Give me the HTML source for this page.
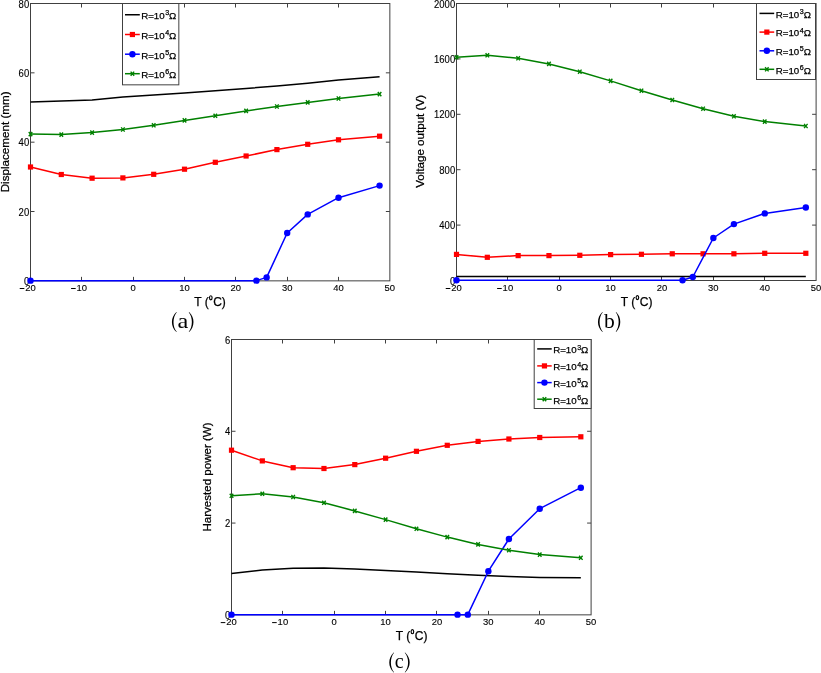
<!DOCTYPE html>
<html><head><meta charset="utf-8"><title>Figure</title>
<style>
html,body{margin:0;padding:0;background:#fff;}
body{width:821px;height:673px;overflow:hidden;}
svg{display:block;will-change:transform;}
text{font-family:"Liberation Sans",sans-serif;fill:#000;stroke:#000;stroke-width:0.25px;}
.t{font-size:9.75px;stroke-width:0.12px;}
.l{font-size:12px;}
.s{font-size:8.2px;}
.g{font-size:9.7px;}
.gs{font-size:7.1px;}
.c{font-family:"Liberation Serif",serif;font-size:20px;stroke:none;}
</style></head>
<body>
<svg width="821" height="673" viewBox="0 0 821 673">
<rect width="821" height="673" fill="#fff"/>
<path d="M81.5 280.85V276.85M81.5 3.5V7.5M133.5 280.85V276.85M133.5 3.5V7.5M184.5 280.85V276.85M184.5 3.5V7.5M235.5 280.85V276.85M235.5 3.5V7.5M287.5 280.85V276.85M287.5 3.5V7.5M338.5 280.85V276.85M338.5 3.5V7.5M30.5 211.51H34.5M389.85 211.51H385.85M30.5 142.18H34.5M389.85 142.18H385.85M30.5 72.84H34.5M389.85 72.84H385.85" stroke="#404040" stroke-width="1" fill="none"/>
<text transform="translate(30.5 291.2) scale(0.97 1)" class="t" text-anchor="middle">20</text>
<path d="M19.74 288.5H24.34" stroke="#000" stroke-width="1"/>
<text transform="translate(81.84 291.2) scale(0.97 1)" class="t" text-anchor="middle">10</text>
<path d="M71.08 288.5H75.68" stroke="#000" stroke-width="1"/>
<text transform="translate(133.17 291.2) scale(0.97 1)" class="t" text-anchor="middle">0</text>
<text transform="translate(184.51 291.2) scale(0.97 1)" class="t" text-anchor="middle">10</text>
<text transform="translate(235.84 291.2) scale(0.97 1)" class="t" text-anchor="middle">20</text>
<text transform="translate(287.18 291.2) scale(0.97 1)" class="t" text-anchor="middle">30</text>
<text transform="translate(338.51 291.2) scale(0.97 1)" class="t" text-anchor="middle">40</text>
<text transform="translate(389.85 291.2) scale(0.97 1)" class="t" text-anchor="middle">50</text>
<text transform="translate(29.2 284.95) scale(0.95 1)" class="t" style="font-size:10px" text-anchor="end">0</text>
<text transform="translate(29.2 215.61) scale(0.95 1)" class="t" style="font-size:10px" text-anchor="end">20</text>
<text transform="translate(29.2 146.28) scale(0.95 1)" class="t" style="font-size:10px" text-anchor="end">40</text>
<text transform="translate(29.2 76.94) scale(0.95 1)" class="t" style="font-size:10px" text-anchor="end">60</text>
<text transform="translate(29.2 7.6) scale(0.95 1)" class="t" style="font-size:10px" text-anchor="end">80</text>
<text x="210" y="305.8" class="l" text-anchor="middle">T (<tspan dx="4.5">C)</tspan></text>
<ellipse cx="210.8" cy="297.8" rx="1.3" ry="2.05" fill="none" stroke="#000" stroke-width="1.15"/>
<text transform="translate(8.9 141.85) rotate(-90)" text-anchor="middle" style="font-size:11.65px" class="l">Displacement (mm)</text>
<text transform="translate(183 327.9) scale(1.22 1)" class="c" text-anchor="middle">a</text>
<path d="M176.4 311.9C170.4 317.35 170.4 326.65 176.4 332.1L176.75 331.85C172.42 326.65 172.42 317.35 176.75 312.15ZM189.1 311.9C194.97 317.35 194.97 326.65 189.1 332.1L188.75 331.85C192.95 326.65 192.95 317.35 188.75 312.15Z" fill="#000"/>
<rect x="30.5" y="3.5" width="359.35" height="277.35" fill="none" stroke="#404040" stroke-width="1"/>
<polyline points="30.5,101.96 61.3,100.92 92.1,99.88 122.9,97.11 153.71,95.03 184.51,92.95 215.31,90.87 246.11,88.44 276.91,86.01 307.71,83.24 338.51,80.12 379.58,76.65" fill="none" stroke="#000" stroke-width="1.5" stroke-linejoin="round" stroke-linecap="butt"/>
<polyline points="30.5,167 61.3,174.5 92.1,178.2 122.9,177.9 153.71,174.3 184.51,169.2 215.31,162.3 246.11,156 276.91,149.6 307.71,144.3 338.51,139.8 379.58,136.2" fill="none" stroke="#f00" stroke-width="1.5" stroke-linejoin="round" stroke-linecap="butt"/>
<rect x="27.9" y="164.4" width="5.2" height="5.2" fill="#f00"/><rect x="58.7" y="171.9" width="5.2" height="5.2" fill="#f00"/><rect x="89.5" y="175.6" width="5.2" height="5.2" fill="#f00"/><rect x="120.3" y="175.3" width="5.2" height="5.2" fill="#f00"/><rect x="151.11" y="171.7" width="5.2" height="5.2" fill="#f00"/><rect x="181.91" y="166.6" width="5.2" height="5.2" fill="#f00"/><rect x="212.71" y="159.7" width="5.2" height="5.2" fill="#f00"/><rect x="243.51" y="153.4" width="5.2" height="5.2" fill="#f00"/><rect x="274.31" y="147" width="5.2" height="5.2" fill="#f00"/><rect x="305.11" y="141.7" width="5.2" height="5.2" fill="#f00"/><rect x="335.91" y="137.2" width="5.2" height="5.2" fill="#f00"/><rect x="376.98" y="133.6" width="5.2" height="5.2" fill="#f00"/>
<polyline points="30.5,280.65 256.38,280.65 266.64,277.4 287.18,233 307.71,214.4 338.51,197.7 379.58,185.6" fill="none" stroke="#00f" stroke-width="1.5" stroke-linejoin="round" stroke-linecap="butt"/>
<circle cx="30.5" cy="280.65" r="3.2" fill="#00f"/><circle cx="256.38" cy="280.65" r="3.2" fill="#00f"/><circle cx="266.64" cy="277.4" r="3.2" fill="#00f"/><circle cx="287.18" cy="233" r="3.2" fill="#00f"/><circle cx="307.71" cy="214.4" r="3.2" fill="#00f"/><circle cx="338.51" cy="197.7" r="3.2" fill="#00f"/><circle cx="379.58" cy="185.6" r="3.2" fill="#00f"/>
<polyline points="30.5,134.1 61.3,134.6 92.1,132.6 122.9,129.5 153.71,125.3 184.51,120.4 215.31,115.8 246.11,110.9 276.91,106.5 307.71,102.4 338.51,98.5 379.58,94.1" fill="none" stroke="#008000" stroke-width="1.5" stroke-linejoin="round" stroke-linecap="butt"/>
<path d="M28.75 132L32.25 136.2M28.75 136.2L32.25 132" stroke="#008000" stroke-width="1.4" fill="none"/><path d="M59.55 132.5L63.05 136.7M59.55 136.7L63.05 132.5" stroke="#008000" stroke-width="1.4" fill="none"/><path d="M90.35 130.5L93.85 134.7M90.35 134.7L93.85 130.5" stroke="#008000" stroke-width="1.4" fill="none"/><path d="M121.15 127.4L124.65 131.6M121.15 131.6L124.65 127.4" stroke="#008000" stroke-width="1.4" fill="none"/><path d="M151.96 123.2L155.46 127.4M151.96 127.4L155.46 123.2" stroke="#008000" stroke-width="1.4" fill="none"/><path d="M182.76 118.3L186.26 122.5M182.76 122.5L186.26 118.3" stroke="#008000" stroke-width="1.4" fill="none"/><path d="M213.56 113.7L217.06 117.9M213.56 117.9L217.06 113.7" stroke="#008000" stroke-width="1.4" fill="none"/><path d="M244.36 108.8L247.86 113M244.36 113L247.86 108.8" stroke="#008000" stroke-width="1.4" fill="none"/><path d="M275.16 104.4L278.66 108.6M275.16 108.6L278.66 104.4" stroke="#008000" stroke-width="1.4" fill="none"/><path d="M305.96 100.3L309.46 104.5M305.96 104.5L309.46 100.3" stroke="#008000" stroke-width="1.4" fill="none"/><path d="M336.76 96.4L340.26 100.6M336.76 100.6L340.26 96.4" stroke="#008000" stroke-width="1.4" fill="none"/><path d="M377.83 92L381.33 96.2M377.83 96.2L381.33 92" stroke="#008000" stroke-width="1.4" fill="none"/>
<rect x="122.5" y="3.5" width="56.33" height="81.33" fill="#fff" stroke="#404040" stroke-width="1"/>
<polyline points="125,14.75 139.8,14.75" fill="none" stroke="#000" stroke-width="1.5" stroke-linejoin="round" stroke-linecap="butt"/>
<text x="141.2" y="19.05" class="g">R=10<tspan class="gs" dx="0.5" dy="-3.7">3</tspan><tspan dy="3.7">&#937;</tspan></text>
<polyline points="125,34.5 139.8,34.5" fill="none" stroke="#f00" stroke-width="1.5" stroke-linejoin="round" stroke-linecap="butt"/>
<rect x="129.8" y="31.9" width="5.2" height="5.2" fill="#f00"/>
<text x="141.2" y="38.8" class="g">R=10<tspan class="gs" dx="0.5" dy="-3.7">4</tspan><tspan dy="3.7">&#937;</tspan></text>
<polyline points="125,54.2 139.8,54.2" fill="none" stroke="#00f" stroke-width="1.5" stroke-linejoin="round" stroke-linecap="butt"/>
<circle cx="132.4" cy="54.2" r="3.2" fill="#00f"/>
<text x="141.2" y="58.5" class="g">R=10<tspan class="gs" dx="0.5" dy="-3.7">5</tspan><tspan dy="3.7">&#937;</tspan></text>
<polyline points="125,73.7 139.8,73.7" fill="none" stroke="#008000" stroke-width="1.5" stroke-linejoin="round" stroke-linecap="butt"/>
<path d="M130.65 71.6L134.15 75.8M130.65 75.8L134.15 71.6" stroke="#008000" stroke-width="1.4" fill="none"/>
<text x="141.2" y="78" class="g">R=10<tspan class="gs" dx="0.5" dy="-3.7">6</tspan><tspan dy="3.7">&#937;</tspan></text>
<path d="M507.5 280.5V276.5M507.5 3.5V7.5M559.5 280.5V276.5M559.5 3.5V7.5M610.5 280.5V276.5M610.5 3.5V7.5M661.5 280.5V276.5M661.5 3.5V7.5M713.5 280.5V276.5M713.5 3.5V7.5M764.5 280.5V276.5M764.5 3.5V7.5M456.5 225.1H460.5M816.1 225.1H812.1M456.5 169.7H460.5M816.1 169.7H812.1M456.5 114.3H460.5M816.1 114.3H812.1M456.5 58.9H460.5M816.1 58.9H812.1" stroke="#404040" stroke-width="1" fill="none"/>
<text transform="translate(456.5 291.2) scale(0.97 1)" class="t" text-anchor="middle">20</text>
<path d="M445.74 288.5H450.34" stroke="#000" stroke-width="1"/>
<text transform="translate(507.87 291.2) scale(0.97 1)" class="t" text-anchor="middle">10</text>
<path d="M497.11 288.5H501.71" stroke="#000" stroke-width="1"/>
<text transform="translate(559.24 291.2) scale(0.97 1)" class="t" text-anchor="middle">0</text>
<text transform="translate(610.61 291.2) scale(0.97 1)" class="t" text-anchor="middle">10</text>
<text transform="translate(661.99 291.2) scale(0.97 1)" class="t" text-anchor="middle">20</text>
<text transform="translate(713.36 291.2) scale(0.97 1)" class="t" text-anchor="middle">30</text>
<text transform="translate(764.73 291.2) scale(0.97 1)" class="t" text-anchor="middle">40</text>
<text transform="translate(816.1 291.2) scale(0.97 1)" class="t" text-anchor="middle">50</text>
<text transform="translate(455.2 284.6) scale(0.95 1)" class="t" style="font-size:10px" text-anchor="end">0</text>
<text transform="translate(455.2 229.2) scale(0.95 1)" class="t" style="font-size:10px" text-anchor="end">400</text>
<text transform="translate(455.2 173.8) scale(0.95 1)" class="t" style="font-size:10px" text-anchor="end">800</text>
<text transform="translate(455.2 118.4) scale(0.95 1)" class="t" style="font-size:10px" text-anchor="end">1200</text>
<text transform="translate(455.2 63) scale(0.95 1)" class="t" style="font-size:10px" text-anchor="end">1600</text>
<text transform="translate(455.2 7.6) scale(0.95 1)" class="t" style="font-size:10px" text-anchor="end">2000</text>
<text x="636.6" y="305.6" class="l" text-anchor="middle">T (<tspan dx="4.5">C)</tspan></text>
<ellipse cx="637.4" cy="297.6" rx="1.3" ry="2.05" fill="none" stroke="#000" stroke-width="1.15"/>
<text transform="translate(423.9 141.4) rotate(-90)" text-anchor="middle" style="font-size:11.6px" class="l">Voltage output (V)</text>
<text transform="translate(609.3 327.9) scale(1.08 1)" class="c" text-anchor="middle">b</text>
<path d="M602.4 312C596.53 317.37 596.53 326.53 602.4 331.9L602.75 331.65C598.55 326.53 598.55 317.37 602.75 312.25ZM616.1 312C621.7 317.37 621.7 326.53 616.1 331.9L615.75 331.65C619.68 326.53 619.68 317.37 615.75 312.25Z" fill="#000"/>
<rect x="456.5" y="3.5" width="359.6" height="277" fill="none" stroke="#404040" stroke-width="1"/>
<polyline points="456.5,276.45 487.32,276.45 518.15,276.45 548.97,276.45 579.79,276.45 610.61,276.45 641.44,276.45 672.26,276.45 703.08,276.45 733.91,276.45 764.73,276.45 805.83,276.45" fill="none" stroke="#000" stroke-width="1.5" stroke-linejoin="round" stroke-linecap="butt"/>
<polyline points="456.5,254.4 487.32,257.3 518.15,255.6 548.97,255.6 579.79,255.3 610.61,254.6 641.44,254.3 672.26,253.8 703.08,253.8 733.91,253.8 764.73,253.3 805.83,253.3" fill="none" stroke="#f00" stroke-width="1.5" stroke-linejoin="round" stroke-linecap="butt"/>
<rect x="453.9" y="251.8" width="5.2" height="5.2" fill="#f00"/><rect x="484.72" y="254.7" width="5.2" height="5.2" fill="#f00"/><rect x="515.55" y="253" width="5.2" height="5.2" fill="#f00"/><rect x="546.37" y="253" width="5.2" height="5.2" fill="#f00"/><rect x="577.19" y="252.7" width="5.2" height="5.2" fill="#f00"/><rect x="608.01" y="252" width="5.2" height="5.2" fill="#f00"/><rect x="638.84" y="251.7" width="5.2" height="5.2" fill="#f00"/><rect x="669.66" y="251.2" width="5.2" height="5.2" fill="#f00"/><rect x="700.48" y="251.2" width="5.2" height="5.2" fill="#f00"/><rect x="731.31" y="251.2" width="5.2" height="5.2" fill="#f00"/><rect x="762.13" y="250.7" width="5.2" height="5.2" fill="#f00"/><rect x="803.23" y="250.7" width="5.2" height="5.2" fill="#f00"/>
<polyline points="456.5,280.3 682.53,280.3 692.81,277 713.36,238 733.91,224.1 764.73,213.4 805.83,207.5" fill="none" stroke="#00f" stroke-width="1.5" stroke-linejoin="round" stroke-linecap="butt"/>
<circle cx="456.5" cy="280.3" r="3.2" fill="#00f"/><circle cx="682.53" cy="280.3" r="3.2" fill="#00f"/><circle cx="692.81" cy="277" r="3.2" fill="#00f"/><circle cx="713.36" cy="238" r="3.2" fill="#00f"/><circle cx="733.91" cy="224.1" r="3.2" fill="#00f"/><circle cx="764.73" cy="213.4" r="3.2" fill="#00f"/><circle cx="805.83" cy="207.5" r="3.2" fill="#00f"/>
<polyline points="456.5,57.3 487.32,55.3 518.15,58.3 548.97,63.9 579.79,71.7 610.61,80.9 641.44,90.7 672.26,100 703.08,108.7 733.91,116.3 764.73,121.6 805.83,126" fill="none" stroke="#008000" stroke-width="1.5" stroke-linejoin="round" stroke-linecap="butt"/>
<path d="M454.75 55.2L458.25 59.4M454.75 59.4L458.25 55.2" stroke="#008000" stroke-width="1.4" fill="none"/><path d="M485.57 53.2L489.07 57.4M485.57 57.4L489.07 53.2" stroke="#008000" stroke-width="1.4" fill="none"/><path d="M516.4 56.2L519.9 60.4M516.4 60.4L519.9 56.2" stroke="#008000" stroke-width="1.4" fill="none"/><path d="M547.22 61.8L550.72 66M547.22 66L550.72 61.8" stroke="#008000" stroke-width="1.4" fill="none"/><path d="M578.04 69.6L581.54 73.8M578.04 73.8L581.54 69.6" stroke="#008000" stroke-width="1.4" fill="none"/><path d="M608.86 78.8L612.36 83M608.86 83L612.36 78.8" stroke="#008000" stroke-width="1.4" fill="none"/><path d="M639.69 88.6L643.19 92.8M639.69 92.8L643.19 88.6" stroke="#008000" stroke-width="1.4" fill="none"/><path d="M670.51 97.9L674.01 102.1M670.51 102.1L674.01 97.9" stroke="#008000" stroke-width="1.4" fill="none"/><path d="M701.33 106.6L704.83 110.8M701.33 110.8L704.83 106.6" stroke="#008000" stroke-width="1.4" fill="none"/><path d="M732.16 114.2L735.66 118.4M732.16 118.4L735.66 114.2" stroke="#008000" stroke-width="1.4" fill="none"/><path d="M762.98 119.5L766.48 123.7M762.98 123.7L766.48 119.5" stroke="#008000" stroke-width="1.4" fill="none"/><path d="M804.08 123.9L807.58 128.1M804.08 128.1L807.58 123.9" stroke="#008000" stroke-width="1.4" fill="none"/>
<rect x="756.5" y="3.5" width="59" height="76" fill="#fff" stroke="#404040" stroke-width="1"/>
<polyline points="759.5,13.4 774.2,13.4" fill="none" stroke="#000" stroke-width="1.5" stroke-linejoin="round" stroke-linecap="butt"/>
<text x="775.8" y="17.7" class="g">R=10<tspan class="gs" dx="0.5" dy="-3.7">3</tspan><tspan dy="3.7">&#937;</tspan></text>
<polyline points="759.5,32.1 774.2,32.1" fill="none" stroke="#f00" stroke-width="1.5" stroke-linejoin="round" stroke-linecap="butt"/>
<rect x="764.25" y="29.5" width="5.2" height="5.2" fill="#f00"/>
<text x="775.8" y="36.4" class="g">R=10<tspan class="gs" dx="0.5" dy="-3.7">4</tspan><tspan dy="3.7">&#937;</tspan></text>
<polyline points="759.5,50.8 774.2,50.8" fill="none" stroke="#00f" stroke-width="1.5" stroke-linejoin="round" stroke-linecap="butt"/>
<circle cx="766.85" cy="50.8" r="3.2" fill="#00f"/>
<text x="775.8" y="55.1" class="g">R=10<tspan class="gs" dx="0.5" dy="-3.7">5</tspan><tspan dy="3.7">&#937;</tspan></text>
<polyline points="759.5,69.3 774.2,69.3" fill="none" stroke="#008000" stroke-width="1.5" stroke-linejoin="round" stroke-linecap="butt"/>
<path d="M765.1 67.2L768.6 71.4M765.1 71.4L768.6 67.2" stroke="#008000" stroke-width="1.4" fill="none"/>
<text x="775.8" y="73.6" class="g">R=10<tspan class="gs" dx="0.5" dy="-3.7">6</tspan><tspan dy="3.7">&#937;</tspan></text>
<path d="M282.5 614.85V610.85M282.5 339.5V343.5M334.5 614.85V610.85M334.5 339.5V343.5M385.5 614.85V610.85M385.5 339.5V343.5M436.5 614.85V610.85M436.5 339.5V343.5M488.5 614.85V610.85M488.5 339.5V343.5M539.5 614.85V610.85M539.5 339.5V343.5M231.5 523.07H235.5M591.1 523.07H587.1M231.5 431.28H235.5M591.1 431.28H587.1" stroke="#404040" stroke-width="1" fill="none"/>
<text transform="translate(231.5 625.3) scale(0.97 1)" class="t" text-anchor="middle">20</text>
<path d="M220.74 622.6H225.34" stroke="#000" stroke-width="1"/>
<text transform="translate(282.87 625.3) scale(0.97 1)" class="t" text-anchor="middle">10</text>
<path d="M272.11 622.6H276.71" stroke="#000" stroke-width="1"/>
<text transform="translate(334.24 625.3) scale(0.97 1)" class="t" text-anchor="middle">0</text>
<text transform="translate(385.61 625.3) scale(0.97 1)" class="t" text-anchor="middle">10</text>
<text transform="translate(436.99 625.3) scale(0.97 1)" class="t" text-anchor="middle">20</text>
<text transform="translate(488.36 625.3) scale(0.97 1)" class="t" text-anchor="middle">30</text>
<text transform="translate(539.73 625.3) scale(0.97 1)" class="t" text-anchor="middle">40</text>
<text transform="translate(591.1 625.3) scale(0.97 1)" class="t" text-anchor="middle">50</text>
<text transform="translate(230.2 618.95) scale(0.95 1)" class="t" style="font-size:10px" text-anchor="end">0</text>
<text transform="translate(230.2 527.17) scale(0.95 1)" class="t" style="font-size:10px" text-anchor="end">2</text>
<text transform="translate(230.2 435.38) scale(0.95 1)" class="t" style="font-size:10px" text-anchor="end">4</text>
<text transform="translate(230.2 343.6) scale(0.95 1)" class="t" style="font-size:10px" text-anchor="end">6</text>
<text x="411.6" y="639.7" class="l" text-anchor="middle">T (<tspan dx="4.5">C)</tspan></text>
<ellipse cx="412.4" cy="631.7" rx="1.3" ry="2.05" fill="none" stroke="#000" stroke-width="1.15"/>
<text transform="translate(210.9 477) rotate(-90)" text-anchor="middle" style="font-size:11.55px" class="l">Harvested power (W)</text>
<text transform="translate(399.15 667.8) scale(1.0 1)" class="c" text-anchor="middle">c</text>
<path d="M393.7 652.5C387.83 657.9 387.83 667.1 393.7 672.5L394.05 672.25C389.85 667.1 389.85 657.9 394.05 652.75ZM405.1 652.5C411.23 657.9 411.23 667.1 405.1 672.5L404.75 672.25C409.22 667.1 409.22 657.9 404.75 652.75Z" fill="#000"/>
<rect x="231.5" y="339.5" width="359.6" height="275.35" fill="none" stroke="#404040" stroke-width="1"/>
<polyline points="231.5,573.6 262.32,570 293.15,568.2 323.97,567.9 354.79,568.9 385.61,570.5 416.44,572.1 447.26,573.7 478.08,575.2 508.91,576.6 539.73,577.5 580.83,577.8" fill="none" stroke="#000" stroke-width="1.5" stroke-linejoin="round" stroke-linecap="butt"/>
<polyline points="231.5,450.2 262.32,460.9 293.15,467.7 323.97,468.5 354.79,464.6 385.61,458.2 416.44,451.3 447.26,445.3 478.08,441.4 508.91,439 539.73,437.5 580.83,436.8" fill="none" stroke="#f00" stroke-width="1.5" stroke-linejoin="round" stroke-linecap="butt"/>
<rect x="228.9" y="447.6" width="5.2" height="5.2" fill="#f00"/><rect x="259.72" y="458.3" width="5.2" height="5.2" fill="#f00"/><rect x="290.55" y="465.1" width="5.2" height="5.2" fill="#f00"/><rect x="321.37" y="465.9" width="5.2" height="5.2" fill="#f00"/><rect x="352.19" y="462" width="5.2" height="5.2" fill="#f00"/><rect x="383.01" y="455.6" width="5.2" height="5.2" fill="#f00"/><rect x="413.84" y="448.7" width="5.2" height="5.2" fill="#f00"/><rect x="444.66" y="442.7" width="5.2" height="5.2" fill="#f00"/><rect x="475.48" y="438.8" width="5.2" height="5.2" fill="#f00"/><rect x="506.31" y="436.4" width="5.2" height="5.2" fill="#f00"/><rect x="537.13" y="434.9" width="5.2" height="5.2" fill="#f00"/><rect x="578.23" y="434.2" width="5.2" height="5.2" fill="#f00"/>
<polyline points="231.5,614.65 457.53,614.65 467.81,614.65 488.36,571.2 508.91,539 539.73,508.7 580.83,487.7" fill="none" stroke="#00f" stroke-width="1.5" stroke-linejoin="round" stroke-linecap="butt"/>
<circle cx="231.5" cy="614.65" r="3.2" fill="#00f"/><circle cx="457.53" cy="614.65" r="3.2" fill="#00f"/><circle cx="467.81" cy="614.65" r="3.2" fill="#00f"/><circle cx="488.36" cy="571.2" r="3.2" fill="#00f"/><circle cx="508.91" cy="539" r="3.2" fill="#00f"/><circle cx="539.73" cy="508.7" r="3.2" fill="#00f"/><circle cx="580.83" cy="487.7" r="3.2" fill="#00f"/>
<polyline points="231.5,495.8 262.32,493.8 293.15,497 323.97,502.8 354.79,510.9 385.61,519.6 416.44,528.8 447.26,537.1 478.08,544.4 508.91,550.2 539.73,554.6 580.83,557.8" fill="none" stroke="#008000" stroke-width="1.5" stroke-linejoin="round" stroke-linecap="butt"/>
<path d="M229.75 493.7L233.25 497.9M229.75 497.9L233.25 493.7" stroke="#008000" stroke-width="1.4" fill="none"/><path d="M260.57 491.7L264.07 495.9M260.57 495.9L264.07 491.7" stroke="#008000" stroke-width="1.4" fill="none"/><path d="M291.4 494.9L294.9 499.1M291.4 499.1L294.9 494.9" stroke="#008000" stroke-width="1.4" fill="none"/><path d="M322.22 500.7L325.72 504.9M322.22 504.9L325.72 500.7" stroke="#008000" stroke-width="1.4" fill="none"/><path d="M353.04 508.8L356.54 513M353.04 513L356.54 508.8" stroke="#008000" stroke-width="1.4" fill="none"/><path d="M383.86 517.5L387.36 521.7M383.86 521.7L387.36 517.5" stroke="#008000" stroke-width="1.4" fill="none"/><path d="M414.69 526.7L418.19 530.9M414.69 530.9L418.19 526.7" stroke="#008000" stroke-width="1.4" fill="none"/><path d="M445.51 535L449.01 539.2M445.51 539.2L449.01 535" stroke="#008000" stroke-width="1.4" fill="none"/><path d="M476.33 542.3L479.83 546.5M476.33 546.5L479.83 542.3" stroke="#008000" stroke-width="1.4" fill="none"/><path d="M507.16 548.1L510.66 552.3M507.16 552.3L510.66 548.1" stroke="#008000" stroke-width="1.4" fill="none"/><path d="M537.98 552.5L541.48 556.7M537.98 556.7L541.48 552.5" stroke="#008000" stroke-width="1.4" fill="none"/><path d="M579.08 555.7L582.58 559.9M579.08 559.9L582.58 555.7" stroke="#008000" stroke-width="1.4" fill="none"/>
<rect x="534.2" y="339.5" width="56.9" height="69" fill="#fff" stroke="#404040" stroke-width="1"/>
<polyline points="537.2,348.9 551.7,348.9" fill="none" stroke="#000" stroke-width="1.5" stroke-linejoin="round" stroke-linecap="butt"/>
<text x="553.2" y="353.2" class="g">R=10<tspan class="gs" dx="0.5" dy="-3.7">3</tspan><tspan dy="3.7">&#937;</tspan></text>
<polyline points="537.2,365.9 551.7,365.9" fill="none" stroke="#f00" stroke-width="1.5" stroke-linejoin="round" stroke-linecap="butt"/>
<rect x="541.85" y="363.3" width="5.2" height="5.2" fill="#f00"/>
<text x="553.2" y="370.2" class="g">R=10<tspan class="gs" dx="0.5" dy="-3.7">4</tspan><tspan dy="3.7">&#937;</tspan></text>
<polyline points="537.2,382.6 551.7,382.6" fill="none" stroke="#00f" stroke-width="1.5" stroke-linejoin="round" stroke-linecap="butt"/>
<circle cx="544.45" cy="382.6" r="3.2" fill="#00f"/>
<text x="553.2" y="386.9" class="g">R=10<tspan class="gs" dx="0.5" dy="-3.7">5</tspan><tspan dy="3.7">&#937;</tspan></text>
<polyline points="537.2,399.2 551.7,399.2" fill="none" stroke="#008000" stroke-width="1.5" stroke-linejoin="round" stroke-linecap="butt"/>
<path d="M542.7 397.1L546.2 401.3M542.7 401.3L546.2 397.1" stroke="#008000" stroke-width="1.4" fill="none"/>
<text x="553.2" y="403.5" class="g">R=10<tspan class="gs" dx="0.5" dy="-3.7">6</tspan><tspan dy="3.7">&#937;</tspan></text>
</svg>
</body></html>
